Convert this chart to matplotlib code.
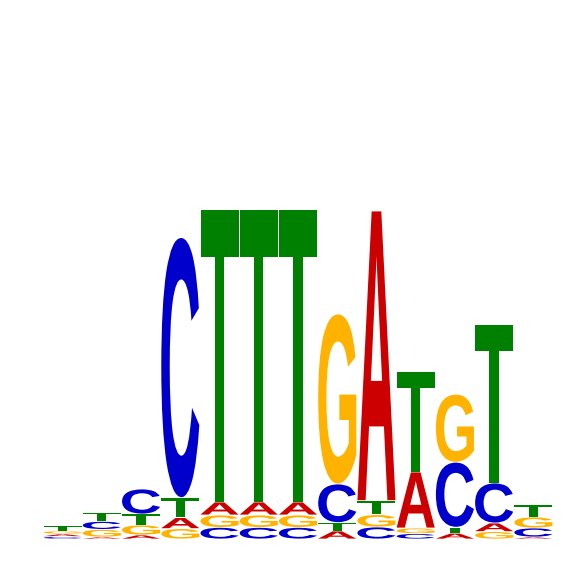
import matplotlib
matplotlib.use("Agg")
import matplotlib.pyplot as plt
from matplotlib.textpath import TextPath
from matplotlib.patches import PathPatch
from matplotlib.font_manager import FontProperties
from matplotlib.transforms import Affine2D

# information content (bits) per base at each of the 13 positions
positions = list(range(1, 14))
A = [0.013, 0.010, 0.020, 0.055, 0.065, 0.065, 0.065, 0.040, 1.448, 0.280, 0.029, 0.043, 0.010]
C = [0.012, 0.040, 0.125, 1.300, 0.058, 0.058, 0.058, 0.193, 0.060, 0.027, 0.325, 0.200, 0.045]
G = [0.015, 0.038, 0.050, 0.052, 0.062, 0.062, 0.062, 0.850, 0.062, 0.028, 0.340, 0.037, 0.055]
T = [0.025, 0.045, 0.055, 0.100, 1.460, 1.460, 1.460, 0.042, 0.070, 0.500, 0.030, 0.790, 0.060]

colors = {"A": "#CC0000", "C": "#0000CC", "G": "#FFB300", "T": "#008000"}
font = FontProperties(family="Liberation Sans", weight="bold")


def draw_letter(ax, ch, x, y, w, h):
    path = TextPath((0, 0), ch, size=1, prop=font)
    ext = path.get_extents()
    tr = (Affine2D()
          .translate(-ext.x0, -ext.y0)
          .scale(w / ext.width, h / ext.height)
          .translate(x, y))
    ax.add_patch(PathPatch(tr.transform_path(path), facecolor=colors[ch],
                           edgecolor="none", lw=0))


fig = plt.figure(figsize=(5.66, 5.66), dpi=100)
ax = fig.add_axes([43 / 566, 27 / 566, 510 / 566, 400 / 566])

width = 0.97
vgap = 0.004
for i, pos in enumerate(positions):
    vals = {"A": A[i], "C": C[i], "G": G[i], "T": T[i]}
    y = 0
    for ch in sorted(vals, key=vals.get):
        h = vals[ch]
        draw_letter(ax, ch, pos - width / 2, y + vgap / 2, width, max(h - vgap, 0.001))
        y += h

ax.set_xlim(0.5, 13.5)
ax.set_ylim(0, 2)
ax.axis("off")
fig.savefig("out.png", dpi=100)
